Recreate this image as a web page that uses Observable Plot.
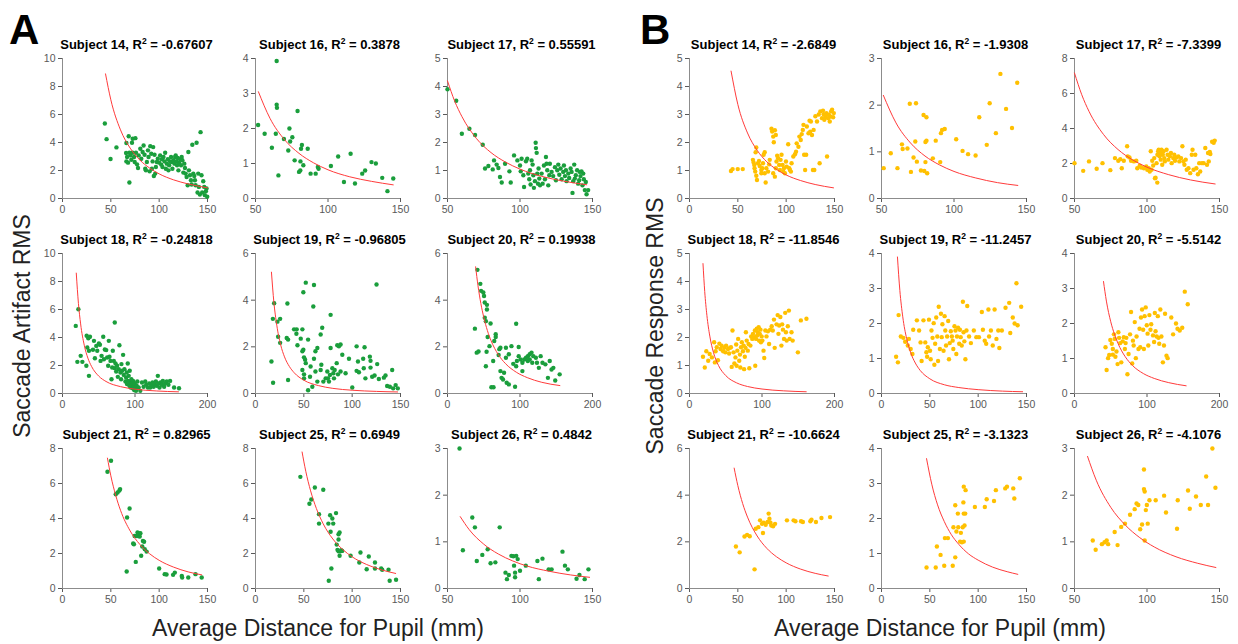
<!DOCTYPE html>
<html><head><meta charset="utf-8">
<script src="https://cdn.jsdelivr.net/npm/d3@7"></script>
<script src="https://cdn.jsdelivr.net/npm/@observablehq/plot@0.6"></script>
<style>
body{margin:0;background:#fff;}
#fig{position:relative;width:1238px;height:644px;overflow:hidden;font-family:"Liberation Sans",Arial,sans-serif;background:#fff;}
#fig svg line{stroke:#8c8c8c;}
.ttl{position:absolute;font-weight:bold;font-size:13px;line-height:15px;color:#000;white-space:nowrap;transform:translateX(-50%);}
.ttl sup{font-size:8.5px;line-height:0;vertical-align:5px;}
.big{position:absolute;font-weight:bold;font-size:42px;color:#000;line-height:1;}
.axl{position:absolute;font-size:23px;color:#222;white-space:nowrap;line-height:1;}
</style></head><body><div id="fig"></div>
<script>
// ---------- titles / labels ----------
const subjects = [14,16,17,18,19,20,21,25,26];
const r2Artifact = ["-0.67607","0.3878","0.55591","-0.24818","-0.96805","0.19938","0.82965","0.6949","0.4842"];
const r2Response = ["-2.6849","-1.9308","-7.3399","-11.8546","-11.2457","-5.5142","-10.6624","-3.1323","-4.1076"];
const xLabel = "Average Distance for Pupil (mm)";
const yLabelA = "Saccade Artifact RMS";
const yLabelB = "Saccade Response RMS";

// ---------- tick labels ----------
const xt0_150 = [0,50,100,150];
const xt50_150 = [50,100,150];
const xt0_200 = [0,100,200];
const xTicks = [xt0_150, xt50_150, xt50_150, xt0_200, xt0_150, xt0_200, xt0_150, xt0_150, xt50_150];
const yTicksA = [[0,2,4,6,8,10],[0,1,2,3,4],[0,1,2,3,4,5],[0,2,4,6,8,10],[0,2,4,6],[0,2,4,6],[0,2,4,6,8],[0,2,4,6,8],[0,1,2,3]];
const yTicksB = [[0,1,2,3,4,5],[0,1,2,3],[0,2,4,6,8],[0,1,2,3,4,5],[0,1,2,3,4],[0,1,2,3,4],[0,2,4,6],[0,1,2,3,4],[0,1,2,3]];

// ---------- Panel A: artifact data [distance, RMS] ----------
const artifact14 = [[43.8,5.36],[45.6,4.24],[49.7,2.82],[55.8,3.65],[69.2,1.14],[68.5,4.45],[66.1,3.96],[71.9,3.98],[72.6,4.27],[75.4,4.31],[65.8,3.25],[66.8,2.96],[66.1,2.65],[67.8,2.56],[69.2,3.27],[70.2,3.08],[71.2,2.77],[72.6,3.27],[74,2.96],[74.7,2.61],[76,3.27],[77.1,2.44],[78.1,2.18],[78.8,3.08],[80.5,3.55],[81.5,2.84],[82.9,3.32],[83.9,3.79],[84.9,3.13],[85.6,2.13],[86.3,2.01],[87.3,2.61],[88.4,3.44],[89,2.96],[90.1,1.94],[90.8,3.74],[91.8,3.2],[92.5,2.13],[93.2,2.65],[93.8,3.67],[94.5,1.61],[95.2,3.13],[95.9,1.78],[96.6,2.25],[97.6,2.61],[98.6,2.84],[100,2.56],[101,3.08],[102.1,2.42],[102.8,2.8],[103.4,2.25],[104.5,2.96],[105.5,2.65],[106.2,3.27],[106.9,2.13],[107.9,2.49],[109,2.8],[109.6,2.01],[110.3,2.37],[111.3,2.65],[112.3,2.96],[113,2.61],[113.7,2.13],[114.7,2.73],[115.8,2.49],[116.5,2.96],[117.1,3.08],[117.8,2.65],[118.5,2.37],[119.2,2.89],[119.9,2.01],[120.6,2.56],[121.6,2.8],[122.6,2.37],[123.3,2.96],[124,2.73],[125,1.85],[126,2.49],[126.7,2.18],[127.4,1.78],[128.4,1.54],[129.5,0.95],[130.2,3.32],[130.8,2.01],[131.9,1.66],[132.9,1.3],[133.6,1.0],[134.3,3.84],[135.3,1.78],[136.3,1.61],[137,1.3],[137.7,0.95],[138.7,3.98],[139.7,0.43],[140.4,1.78],[141.1,0.83],[142.1,0.28],[142.8,4.74],[143.8,1.66],[144.5,0.43],[145.6,1.23],[146.6,0.83],[147.3,0.24],[148.3,0.52],[149,0.71],[149.7,0.12]];
const artifact16 = [[51.8,2.1],[56.3,1.85],[61.3,1.45],[64.6,3.93],[64.6,2.68],[64.8,2.59],[64,1.85],[65.8,0.66],[69.6,1.7],[72.6,1.37],[73.4,2.0],[73.9,1.63],[75.4,1.75],[77,1.09],[79,2.5],[80.9,0.8],[80,0.76],[81.4,1.42],[82,1.53],[81,1.06],[83,0.95],[86,1.42],[88,0.71],[91.5,0.71],[93,0.9],[93.5,0.85],[102,0.93],[107,1.2],[111,0.47],[115.6,1.28],[118.6,0.43],[123.6,0.71],[125.6,0.8],[130,1.04],[133,1.0],[137.4,0.59],[141,0.21],[145,0.57]];
const artifact17 = [[50,3.9],[56,3.49],[59.9,2.31],[65.1,2.49],[69,2.27],[74.3,1.92],[75.9,1.07],[78.2,1.16],[81.2,1.04],[82.1,1.36],[83.9,1.21],[85.1,1.09],[86.2,0.77],[87.4,0.57],[89.7,1.24],[92.7,0.97],[93.6,0.57],[95.9,1.54],[98.2,1.36],[100,1.18],[100.5,0.97],[101.1,1.42],[102.3,0.83],[102.8,0.41],[104.1,1.33],[105,1.42],[105.7,0.89],[106.4,0.69],[106.9,1.01],[107.3,0.5],[108,1.36],[108.7,1.21],[109.2,0.83],[109.6,0.38],[110.3,0.62],[110.8,1.99],[111,1.8],[111.5,1.63],[111.9,0.89],[112.4,0.53],[112.8,1.07],[113.3,0.71],[113.8,0.47],[114.9,0.89],[115.6,0.53],[116.5,1.18],[117.2,0.69],[117.9,1.48],[118.3,1.24],[118.8,1.01],[119.5,0.47],[120.2,0.83],[120.6,1.24],[121.8,0.95],[122.9,0.8],[124.1,1.12],[124.8,0.65],[125.7,1.01],[126.4,1.21],[127.1,0.85],[128,1.07],[128.7,0.69],[129.8,0.95],[130.3,1.18],[131,0.8],[131.7,1.01],[132.1,0.62],[133.3,0.89],[133.9,0.73],[134.9,1.07],[135.6,0.95],[136.2,0.2],[136.7,0.62],[137.4,1.21],[137.8,0.71],[138.5,0.83],[139.4,1.01],[140.1,0.53],[140.8,0.65],[141.3,0.95],[141.7,0.8],[142.4,0.97],[143.1,0.47],[143.6,0.89],[144,0.69],[144.7,0.3],[145.4,0.59],[145.9,0.15],[147,0.3]];
const artifact18 = [[18.3,4.83],[21.9,6.02],[20.5,2.26],[25.1,2.69],[27.4,2.26],[32.9,1.98],[36.5,1.26],[33.3,4.12],[35.6,3.95],[37.9,4.05],[34.2,3.29],[36.5,3.05],[42,3.12],[43.4,3.76],[44.7,2.52],[46.6,3.4],[47.9,3.05],[50.2,3.57],[51.6,3.48],[52.5,2.33],[53.9,2.69],[56.2,4.05],[57.1,2.45],[58.4,3.14],[60.3,3.1],[61.6,2.57],[63,1.98],[63.9,3.76],[64.8,2.62],[66.2,2.33],[67.6,1.02],[68.5,1.86],[69.4,3.05],[70.8,2.33],[72.1,5.07],[72.1,1.81],[73.1,2.14],[74,1.57],[75.3,1.98],[76.3,1.19],[77.6,1.74],[78.5,3.45],[79.9,1.5],[80.8,1.02],[81.3,2.1],[82.2,1.62],[83.6,2.76],[84.5,1.33],[85.4,1.74],[86.8,0.86],[87.7,1.14],[88.6,1.5],[89,0.67],[90,2.14],[90.4,0.9],[91.3,1.26],[92.2,0.55],[92.7,1.62],[93.6,0.79],[94.1,0.43],[95,1.02],[95.9,0.67],[96.8,0.38],[97.3,0.9],[98.2,0.55],[99.1,0.24],[99.5,0.71],[100.5,0.38],[101.4,0.19],[102.3,0.55],[103.2,0.86],[105,0.43],[107.3,0.19],[109.6,0.79],[111.9,0.48],[114.2,0.86],[115.5,0.62],[117.8,0.43],[119.6,0.71],[121,0.43],[122.4,0.62],[124.2,0.79],[125.6,0.48],[126.9,0.71],[128.8,0.86],[130.1,0.55],[131.5,1.26],[132.4,0.71],[133.8,0.43],[135.2,0.79],[137,0.62],[138.4,0.9],[140.2,0.48],[141.6,0.71],[143.8,0.86],[146.1,0.62],[148.4,0.9],[153.9,0.43],[160.7,0.38]];
const artifact19 = [[16.5,1.37],[18.2,0.46],[19.3,3.87],[18,3.2],[22.7,3.08],[25.5,3.2],[23.4,2.43],[25.5,2.17],[33,3.86],[32.3,2.38],[33.7,2.31],[33.7,0.58],[39.9,2.75],[42.6,2.75],[48.5,2.75],[42.3,2.56],[46.8,2.35],[43.4,2.07],[52,4.75],[49.5,4.34],[60.5,4.65],[59.8,3.73],[54.4,2.31],[49.5,1.88],[48.5,1.81],[50.2,1.55],[51.3,1.45],[52,1.3],[48.5,1.01],[50.2,0.82],[50.2,0.65],[54.4,0.14],[58.8,0.29],[62,0.94],[62,1.81],[64,1.95],[60.5,1.49],[57,1.16],[56.4,0.72],[67.4,2.53],[69,2.82],[68.1,1.23],[67.4,1.01],[64,0.51],[70.2,0.51],[72.6,0.65],[74.3,0.94],[75,0.65],[76,0.51],[77,0.79],[77.7,3.37],[77.7,1.95],[79.5,1.08],[80.5,0.87],[81.2,0.65],[81.9,1.01],[84,1.3],[84.6,2.07],[86.3,2.02],[88,2.1],[85.3,0.82],[88,0.94],[89.8,1.66],[93.2,0.87],[96.7,1.49],[100.1,0.26],[104.6,2.02],[106,1.37],[104.6,0.97],[107,0.91],[112.8,1.98],[111.4,1.49],[112,1.08],[113.7,0.65],[118.3,1.58],[119,1.4],[119,1.11],[120.7,0.72],[123.2,0.77],[125.2,4.67],[125.9,1.26],[127.6,0.62],[132.8,0.68],[134.5,0.77],[136.2,0.32],[139,0.29],[141.4,1.01],[142.4,0.22],[147.2,0.22],[145,0.36]];
const artifact20 = [[37.8,2.78],[41.3,5.3],[40.3,1.75],[42.8,1.8],[45.3,4.7],[46.3,4.4],[49.4,4.33],[50.4,4.18],[51.4,3.9],[54.4,3.8],[51.4,3.25],[52.9,3.1],[54.4,3.6],[55.4,2.42],[52.9,1.17],[53.9,1.79],[57.9,2.03],[59.4,3.0],[60.5,0.27],[63.5,0.27],[63,1.39],[64.5,2.25],[66.5,2.42],[66.5,2.54],[70.5,1.65],[71.5,1.9],[73,1.96],[73,0.96],[74.6,0.67],[76.6,0.6],[78,0.89],[80.6,1.96],[80.6,1.53],[81.6,0.46],[84.6,0.39],[84.6,1.68],[88.2,2.03],[90.7,1.27],[93.2,0.29],[94.7,2.99],[94.7,1.17],[95.7,1.39],[98.2,1.99],[98.2,1.6],[100.8,1.46],[103.3,0.96],[103.3,1.32],[105.8,1.46],[108.3,1.53],[110.8,1.6],[110.8,1.39],[113.4,1.46],[113.4,1.68],[115.9,1.75],[116.9,1.32],[118.4,1.6],[121.9,1.53],[123.4,1.32],[126,1.1],[128.5,1.6],[131,1.32],[135,1.25],[138.5,0.67],[141,1.39],[143.5,1.03],[146,1.1],[148.6,0.56],[154.7,0.82]];
const artifact21 = [[46.5,6.67],[50.2,7.3],[55.1,5.39],[57,5.49],[58.9,5.6],[59.6,5.68],[66.4,0.97],[66.8,4.06],[69.4,4.57],[73.1,2.57],[73.9,2.53],[74.6,3.0],[75.8,1.52],[76.9,3.0],[77.6,3.2],[78.4,3.0],[78.8,3.16],[79.9,2.97],[80.6,3.16],[81.4,1.87],[82.5,2.4],[83.2,2.72],[84.4,2.67],[85.1,2.25],[87,2.11],[100,1.14],[105.7,0.82],[107.6,0.8],[114.4,0.78],[116.2,0.91],[123.4,0.72],[123.8,0.63],[130.1,0.63],[137.6,0.82],[144,0.63]];
const artifact25 = [[46.4,6.38],[61.4,5.77],[70.1,5.64],[55.8,4.84],[57.7,5.09],[65.7,4.25],[65.7,3.71],[75.4,3.71],[77.2,4.19],[79.5,4.0],[83.3,4.31],[80.4,3.71],[77.7,3.24],[78.5,1.14],[75.8,0.44],[84,2.51],[85.9,3.1],[87,3.2],[85.9,2.8],[84.8,2.21],[85.9,2.13],[87,1.87],[87.8,2.13],[88.6,2.19],[89.7,2.15],[98.4,1.87],[107.4,1.49],[108.6,2.06],[115,1.1],[117.2,1.83],[123.6,1.49],[123.6,1.14],[130,1.14],[131.1,1.07],[137.6,1.07],[138.8,0.44],[145.4,0.5]];
const artifact26 = [[58.3,3.0],[60.6,0.82],[67.1,1.52],[68.9,1.31],[70.2,0.59],[74,0.72],[77.7,0.84],[79.7,0.54],[83,0.56],[86,1.31],[90,0.34],[91,0.2],[92.3,0.29],[94.1,0.7],[95.4,0.69],[95.9,0.49],[96.6,0.34],[96.6,0.24],[97.4,0.7],[98.4,0.63],[100,0.38],[104,0.49],[112,0.59],[113,0.2],[115.5,0.64],[119.8,0.41],[121.8,0.41],[129.3,0.79],[131,0.49],[133,0.41],[139,0.21],[141,0.29],[144.6,0.2],[147.2,0.41]];

// fitted curves (panel A)
const artifactFit14 = [[44.5,8.9],[50,7.05],[60,4.9],[70,3.6],[80,2.75],[90,2.18],[100,1.76],[115,1.33],[130,1.04],[150,0.76]];
const artifactFit16 = [[52,3.05],[60,2.29],[70,1.68],[80,1.29],[90,1.02],[100,0.82],[115,0.62],[130,0.49],[145,0.39]];
const artifactFit17 = [[50,4.2],[55,3.47],[60,2.92],[70,2.14],[80,1.64],[90,1.3],[100,1.05],[115,0.79],[130,0.62],[146,0.49]];
const artifactFit18 = [[19,8.6],[22,6.42],[25,4.97],[30,3.45],[35,2.53],[40,1.94],[50,1.24],[60,0.86],[80,0.49],[100,0.31],[130,0.18],[160,0.12]];
const artifactFit19 = [[16.5,5.2],[19,3.92],[22,2.93],[26,2.09],[30,1.57],[35,1.16],[40,0.89],[50,0.57],[65,0.34],[80,0.22],[100,0.14],[125,0.09],[147,0.066]];
const artifactFit20 = [[38.8,5.43],[42,4.63],[46,3.86],[50,3.27],[55,2.7],[60,2.27],[70,1.67],[80,1.28],[95,0.91],[110,0.68],[130,0.48],[155,0.34]];
const artifactFit21 = [[46.5,7.45],[50,6.44],[55,5.33],[60,4.47],[70,3.29],[80,2.52],[90,1.99],[100,1.61],[115,1.22],[130,0.95],[144,0.78]];
const artifactFit25 = [[48.2,7.8],[52,6.7],[57,5.58],[63,4.57],[70,3.7],[80,2.83],[90,2.24],[100,1.81],[115,1.37],[130,1.07],[145,0.86]];
const artifactFit26 = [[58.8,1.54],[65,1.26],[75,0.95],[85,0.74],[95,0.59],[105,0.48],[120,0.37],[135,0.29],[148,0.24]];

// ---------- Panel B: response data [distance, RMS] ----------
const response14 = [[42.9,0.98],[44.6,1.05],[49.9,1.05],[55.1,1.05],[65.6,1.38],[66.3,1.29],[67,1.2],[67.3,1.08],[68.4,1.65],[69.1,1.82],[68,0.96],[69.1,0.81],[69.8,0.66],[70.8,1.26],[71.9,1.34],[72.6,1.16],[74.3,1.02],[74.3,0.9],[75.3,1.08],[76,1.26],[76.7,1.56],[77.8,1.65],[77.8,0.9],[78.8,0.57],[79.5,1.08],[81.3,0.96],[82.4,1.22],[83,1.38],[84.8,2.49],[85.5,2.39],[86.6,2.21],[87.2,2.01],[88.3,2.44],[89.3,2.27],[86.6,0.9],[88.3,0.78],[89.3,1.08],[90,1.32],[90.7,1.53],[91.7,1.44],[92.8,1.2],[93.5,1.02],[94.2,1.38],[95.2,1.56],[96.3,1.2],[97,0.96],[97.7,1.08],[98.7,0.9],[99.8,1.32],[100.5,1.14],[102.1,1.94],[103.2,1.08],[103.9,1.02],[104.9,0.96],[105.6,1.26],[107.4,1.5],[109.1,1.58],[110.2,1.67],[110.9,1.97],[112.7,1.85],[113.7,2.21],[115.1,2.09],[116.1,2.3],[117.2,2.45],[117.9,2.63],[118.6,1.56],[119.6,1.02],[120.7,1.56],[121.4,2.57],[123.1,2.33],[124.2,2.78],[124.9,2.39],[125.6,2.75],[126.7,2.27],[127.7,1.02],[128.4,2.45],[129.1,1.02],[130.2,2.94],[131.9,2.75],[133.7,3.0],[134.6,1.26],[135.3,3.11],[137.1,2.87],[138.1,3.14],[138.8,3.01],[139.5,2.81],[140.6,2.93],[141.6,3.05],[142.3,1.5],[143.4,2.87],[144.1,2.99],[145.1,2.75],[145.8,2.93],[146.5,3.11],[147.5,3.17],[148.6,2.9],[149.3,3.05]];
const response16 = [[51.5,0.65],[56.4,0.97],[61,0.65],[64.1,1.16],[64.6,1.06],[67.9,1.07],[69.5,2.03],[70.3,0.57],[72.1,0.88],[73.3,1.22],[73.8,2.04],[74.4,0.79],[77.2,0.6],[79,1.79],[79.5,0.59],[80.3,0.78],[80.3,1.21],[81,1.74],[81,1.24],[81.5,0.54],[85.4,0.86],[87.4,1.24],[90.5,0.78],[91,1.4],[91.8,1.47],[93.6,1.49],[101.5,1.27],[105.9,1.02],[109.7,0.95],[114.9,0.92],[117.4,1.74],[122.6,1.15],[124.6,2.04],[128.9,1.4],[132,2.67],[135.9,1.92],[140,1.51],[143.6,2.48]];
const response17 = [[50,2.02],[56,1.58],[60,2.12],[65.3,1.7],[69.3,2.02],[74.7,1.62],[77.9,2.31],[80.2,2.16],[81.6,2.25],[82.6,1.73],[84,2.16],[86.3,2.99],[86.7,2.41],[87.9,2.35],[89,2.16],[91,2.12],[92.6,2.16],[93.3,1.73],[95,1.87],[96,1.77],[97.9,1.73],[99.5,1.83],[100.2,1.64],[101.2,1.73],[101.9,1.54],[102.6,2.7],[103.1,1.64],[103.6,2.16],[104.3,1.89],[105,2.31],[105.5,1.16],[105.9,1.19],[106.6,2.02],[107.1,0.91],[107.2,2.5],[107.7,2.7],[108.1,2.79],[108.6,2.41],[109.1,2.6],[109.5,2.22],[110,2.79],[110.5,1.93],[110.9,2.5],[111.4,2.7],[111.9,2.31],[112.3,2.12],[113.5,2.79],[114.2,2.5],[114.7,2.22],[115.8,2.41],[116.5,2.6],[117,2.02],[118.1,2.31],[118.8,2.5],[119.3,2.16],[120.5,2.35],[121.6,2.41],[122.3,2.12],[123.5,2.31],[124.4,2.99],[125.1,2.12],[125.8,1.93],[126.7,2.22],[127.4,1.64],[128.6,1.73],[129.8,1.45],[130.9,2.5],[131.4,2.79],[132.1,1.64],[133.3,2.5],[134,1.73],[135.1,1.39],[136,2.02],[136.7,1.54],[137.9,2.02],[139.1,2.02],[140.2,2.89],[141.4,1.93],[142.1,2.6],[142.6,2.12],[143.3,2.66],[143.7,2.54],[144.9,3.24],[146,3.18],[146.7,3.31]];
const response18 = [[18.6,1.31],[21.1,0.93],[23.2,1.51],[25.8,1.17],[27.8,1.41],[30.9,1.29],[34,1.83],[35,1.11],[36,1.51],[37.6,1.65],[39.2,1.19],[41.2,1.78],[42.8,1.59],[44.3,1.71],[46.4,1.51],[47.9,1.63],[49.5,1.47],[50.5,1.71],[53.1,1.59],[54.6,1.43],[55.7,1.63],[57.2,1.65],[58.2,0.95],[59.3,2.25],[60.8,1.47],[61.9,1.07],[63.4,1.29],[64.4,1.75],[65,0.99],[66,1.53],[67.1,1.95],[68.6,1.17],[69.6,1.39],[70.1,0.93],[71.1,1.65],[72.2,1.83],[73.7,1.51],[74.7,1.71],[75.3,0.87],[76.3,1.31],[77.3,1.63],[77.8,2.19],[78.9,1.89],[80.4,1.53],[81.4,1.77],[82.5,0.9],[84,1.71],[85.1,2.04],[86.6,1.95],[87.6,2.13],[89.2,2.01],[90.2,2.25],[90.7,0.99],[91.8,1.95],[92.8,2.31],[93.3,2.07],[94.3,2.19],[95.4,2.37],[95.9,1.89],[96.9,2.13],[97.9,2.28],[98.5,1.83],[99.5,2.04],[100.5,1.89],[102.1,1.53],[103.1,1.27],[104.6,2.25],[106.2,2.04],[108.2,2.22],[109.8,1.77],[111.3,2.28],[113.4,2.4],[114.9,2.25],[116.5,2.64],[117.5,1.63],[120.1,2.47],[121.6,2.8],[122.7,2.13],[123.7,2.43],[125.3,2.73],[126.8,1.71],[127.8,2.47],[128.9,2.28],[130.4,1.95],[132,2.88],[133,2.19],[134,1.89],[135.6,2.4],[137.1,2.96],[138.1,1.95],[140.7,2.19],[142.3,1.89],[149.5,1.47],[153.6,2.61],[161.3,2.67]];
const response19 = [[15.1,1.05],[17,0.89],[17.7,2.24],[20,1.63],[22.6,1.59],[24.5,1.48],[27.2,1.37],[28.3,1.56],[30.2,1.27],[32,1.13],[32.8,1.82],[36.6,2.09],[38.9,1.8],[40.4,1.46],[41.5,0.93],[43.4,2.09],[45.3,1.46],[46.4,1.18],[47.2,1.05],[47.9,1.32],[49.1,2.11],[50.2,1.22],[50.9,0.98],[51.7,1.8],[52.8,1.59],[54,2.01],[54.7,0.82],[55.5,1.42],[56.6,2.17],[57.7,1.63],[58.5,0.93],[59.2,2.48],[60.4,1.27],[61.5,2.28],[62.3,1.61],[63,1.98],[64.2,1.22],[65.3,2.21],[66,1.8],[66.8,1.37],[67.9,1.63],[69,2.07],[69.8,0.98],[70.6,1.44],[71.7,1.78],[72.8,1.63],[73.6,1.51],[74.3,1.27],[75.5,1.92],[76.6,1.8],[77.4,1.13],[78.1,1.63],[79.2,1.88],[80.4,1.42],[81.1,1.82],[81.9,1.61],[83,1.37],[84.2,2.62],[84.9,1.75],[85.7,1.49],[86.8,0.98],[87.9,1.8],[88.7,2.5],[90.6,1.63],[92.5,1.44],[95.5,1.8],[98.1,1.61],[100.8,1.61],[103.8,2.33],[104.9,1.82],[106.8,1.51],[108.3,1.42],[110.6,2.4],[111.3,1.63],[113.2,1.8],[115.1,1.37],[117,2.4],[118.9,1.56],[120.8,1.8],[121.9,1.3],[124.5,1.8],[128.3,2.45],[132.1,2.59],[133.2,1.73],[135.8,2.17],[137.7,2.0],[139.6,3.15],[140.8,1.95],[144.5,2.48]];
const response20 = [[42.8,1.32],[44.3,0.67],[46.3,1.01],[47.9,1.1],[49.4,1.53],[51.4,1.42],[52.9,1.27],[52.9,1.11],[54.4,1.69],[55.4,1.56],[56.4,1.05],[57.9,1.2],[59.4,0.84],[60.5,1.75],[61.5,1.59],[63,1.44],[64.5,0.89],[66.5,1.49],[68,1.61],[69.5,1.27],[70.5,1.44],[71.5,1.59],[73,0.55],[74.6,1.13],[76.6,1.69],[78,2.33],[79.6,0.86],[80.6,1.51],[81.6,1.37],[83.1,2.04],[84.6,1.01],[85.6,1.63],[88.2,1.27],[89.7,1.85],[90.7,1.32],[91.7,2.17],[93.2,2.4],[94.7,1.82],[95.7,1.27],[96.7,2.21],[98.2,2.46],[99.7,1.95],[100.8,1.71],[101.8,1.37],[103.3,2.24],[104.8,1.82],[105.8,1.98],[108.3,1.66],[109.8,1.47],[110.8,2.3],[111.8,1.78],[113.4,1.63],[114.9,2.21],[115.9,1.59],[116.9,1.42],[118.4,2.4],[119.9,1.63],[121.9,0.89],[123.4,1.37],[124.9,2.28],[126.9,1.08],[128.5,1.01],[133.5,2.17],[136,1.69],[140,2.0],[142.1,1.85],[145.1,1.8],[148.6,1.88],[152.1,2.91],[156.2,2.55]];
const response21 = [[48,1.8],[51.9,1.55],[56.9,2.23],[59.6,2.3],[62.3,2.24],[67.3,0.82],[68.5,2.56],[71.2,2.63],[73,2.92],[75,2.77],[76,2.38],[76.9,2.82],[78.8,2.73],[80.8,2.85],[81.9,3.21],[82.7,2.99],[83.8,2.82],[84.6,2.7],[86.5,2.67],[88.5,2.77],[100.8,2.92],[107.7,2.92],[109.6,2.88],[115.4,2.88],[117.3,2.85],[125,2.88],[126.2,2.95],[130.8,2.85],[136.5,3.02],[145.4,3.06]];
const response25 = [[46.6,0.6],[56.1,0.6],[57.3,1.2],[61.1,0.96],[64.9,0.65],[65.6,1.44],[68.7,1.44],[73.7,0.65],[74.4,1.75],[76.3,2.38],[76.3,0.89],[77.5,1.63],[79,2.14],[79.4,1.75],[81.3,1.34],[82.1,1.59],[83.2,1.32],[84,1.75],[84.7,2.46],[85.1,2.91],[85.1,2.14],[85.1,1.34],[85.9,1.8],[86.6,2.14],[87,2.81],[96.6,2.33],[106.9,2.33],[108.8,2.55],[116.4,2.5],[118.3,2.81],[128,2.86],[129.8,2.91],[136.3,2.86],[137.4,2.57],[143.1,3.15]];
const response26 = [[62.6,1.03],[64.6,0.83],[68.9,0.95],[70.7,0.99],[72.2,1.03],[73.2,0.95],[77.7,1.21],[79.7,0.93],[82.2,1.32],[84.8,1.39],[88.3,1.58],[91.5,1.7],[92.8,1.82],[94,1.79],[95.3,1.27],[96.6,1.37],[97.9,2.55],[97.9,2.13],[98.4,2.08],[98.4,1.03],[99.2,1.68],[99.9,1.79],[100.5,1.39],[101.7,1.89],[106,1.89],[111.8,1.99],[113.1,1.63],[120.7,1.28],[121.2,1.89],[128.3,2.1],[129.5,1.71],[133.8,1.97],[137.1,1.79],[140.8,2.4],[142.1,1.79],[145.1,3.0],[147.2,2.16]];

// fitted curves (panel B)
const responseFit14 = [[43,4.55],[50,3.36],[60,2.34],[70,1.72],[80,1.31],[90,1.04],[100,0.84],[115,0.64],[130,0.5],[149,0.38]];
const responseFit16 = [[51.3,2.21],[60,1.62],[70,1.19],[80,0.91],[90,0.72],[100,0.58],[115,0.44],[130,0.34],[144,0.28]];
const responseFit17 = [[50,7.17],[55,5.93],[60,4.98],[70,3.66],[80,2.8],[90,2.21],[100,1.79],[115,1.36],[130,1.06],[147,0.83]];
const responseFit18 = [[18.6,4.64],[21,3.64],[24,2.79],[28,2.05],[33,1.47],[40,1.0],[50,0.64],[65,0.38],[80,0.25],[100,0.16],[130,0.095],[161,0.062]];
const responseFit19 = [[16.5,3.9],[19,2.94],[22,2.19],[26,1.57],[30,1.18],[35,0.87],[40,0.66],[50,0.42],[65,0.25],[80,0.17],[100,0.11],[125,0.068],[146,0.05]];
const responseFit20 = [[40,3.2],[44,2.64],[50,2.05],[55,1.7],[60,1.43],[70,1.05],[80,0.8],[95,0.57],[110,0.43],[130,0.31],[154,0.22]];
const responseFit21 = [[46.2,5.16],[50,4.41],[55,3.64],[60,3.06],[70,2.25],[80,1.72],[90,1.36],[100,1.1],[115,0.83],[130,0.65],[143.5,0.535]];
const responseFit25 = [[46.6,3.71],[52,2.98],[58,2.39],[65,1.91],[72,1.55],[80,1.26],[90,0.99],[100,0.81],[115,0.61],[130,0.48],[141,0.405]];
const responseFit26 = [[59,2.83],[65,2.32],[75,1.74],[85,1.36],[95,1.09],[105,0.89],[120,0.68],[135,0.54],[147.5,0.45]];

const artifactPts = [artifact14,artifact16,artifact17,artifact18,artifact19,artifact20,artifact21,artifact25,artifact26];
const artifactFits = [artifactFit14,artifactFit16,artifactFit17,artifactFit18,artifactFit19,artifactFit20,artifactFit21,artifactFit25,artifactFit26];
const responsePts = [response14,response16,response17,response18,response19,response20,response21,response25,response26];
const responseFits = [responseFit14,responseFit16,responseFit17,responseFit18,responseFit19,responseFit20,responseFit21,responseFit25,responseFit26];

// ---------- layout ----------
const colLeftA = [62,255,447], colLeftB = [689,881,1074], rowTop = [58,253,448];
const PW = 145, PH = 140, ML = 34, MR = 12, MT = 6, MB = 24;
const fig = document.getElementById("fig");

function subplot(left, top, xTk, yTk, pts, fit, color, subject, r2) {
  const xDomain = [xTk[0], xTk[xTk.length-1]];
  const yDomain = [yTk[0], yTk[yTk.length-1]];
  const svg = Plot.plot({
    width: PW+ML+MR, height: PH+MT+MB,
    marginLeft: ML, marginRight: MR, marginTop: MT, marginBottom: MB,
    style: {fontFamily: "'Liberation Sans', Arial, sans-serif", fontSize: "10.5px", color: "#595959", background: "transparent", overflow: "visible"},
    x: {domain: xDomain, ticks: xTk, tickSize: 4, tickPadding: 3, label: null, tickFormat: d => String(d)},
    y: {domain: yDomain, ticks: yTk, tickSize: 4, tickPadding: 3, label: null, tickFormat: d => String(d)},
    marks: [
      Plot.ruleY([yDomain[0]], {stroke: "#8c8c8c"}),
      Plot.ruleX([xDomain[0]], {stroke: "#8c8c8c"}),
      Plot.dot(pts, {x: d => d[0], y: d => d[1], r: 2.2, fill: color}),
      Plot.line(fit, {x: d => d[0], y: d => d[1], stroke: "#ff3b3b", strokeWidth: 1, curve: "monotone-x"})
    ]
  });
  svg.style.position = "absolute";
  svg.style.left = (left-ML) + "px";
  svg.style.top = (top-MT) + "px";
  fig.appendChild(svg);
  const t = document.createElement("div");
  t.className = "ttl";
  t.style.left = (left+PW/2+2) + "px";
  t.style.top = (top-21) + "px";
  t.innerHTML = `Subject ${subject}, R<sup>2</sup> = ${r2}`;
  fig.appendChild(t);
}

for (let i = 0; i < 9; i++) {
  const c = i % 3, r = Math.floor(i/3);
  subplot(colLeftA[c], rowTop[r], xTicks[i], yTicksA[i], artifactPts[i], artifactFits[i], "#1a9e3c", subjects[i], r2Artifact[i]);
  subplot(colLeftB[c], rowTop[r], xTicks[i], yTicksB[i], responsePts[i], responseFits[i], "#ffc000", subjects[i], r2Response[i]);
}

function addText(cls, txt, css) {
  const d = document.createElement("div");
  d.className = cls; d.textContent = txt;
  Object.assign(d.style, css);
  fig.appendChild(d);
}
addText("big", "A", {left: "9px", top: "9px"});
addText("big", "B", {left: "640px", top: "9px"});
addText("axl", xLabel, {left: "318px", top: "617px", transform: "translateX(-50%)"});
addText("axl", xLabel, {left: "940px", top: "617px", transform: "translateX(-50%)"});
addText("axl", yLabelA, {left: "22px", top: "326px", transform: "translate(-50%,-50%) rotate(-90deg)"});
addText("axl", yLabelB, {left: "655px", top: "326px", transform: "translate(-50%,-50%) rotate(-90deg)"});
</script></body></html>
